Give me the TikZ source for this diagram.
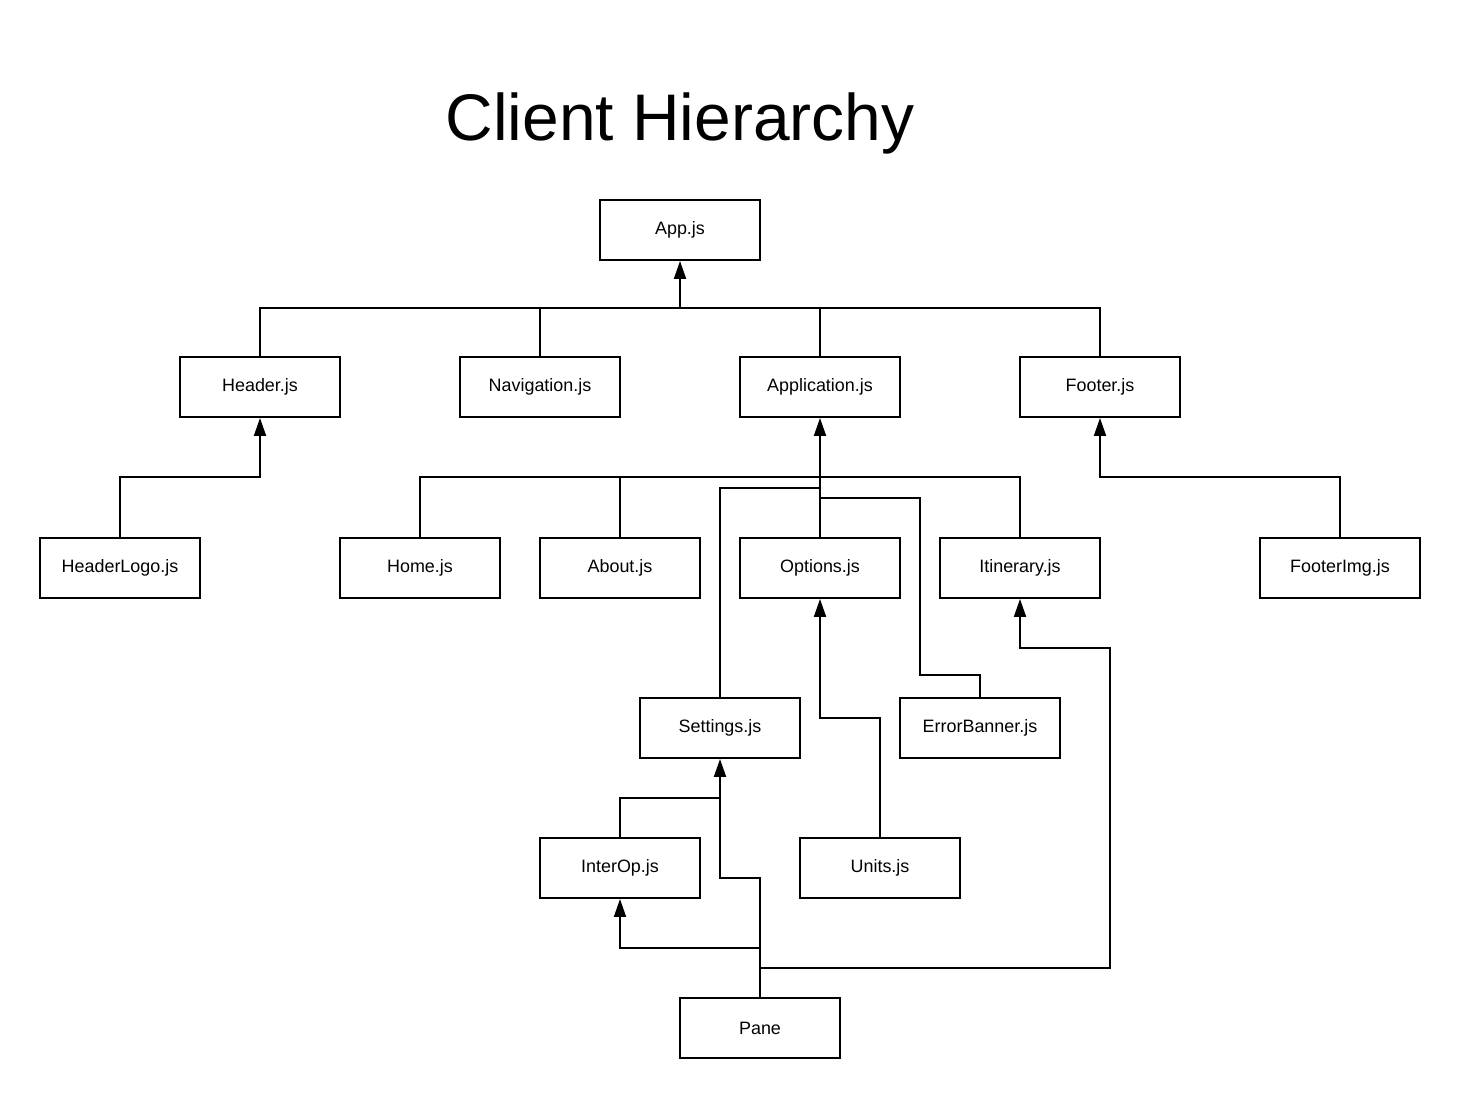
\documentclass[tikz,border=0pt]{standalone}
\usepackage{fontspec}
\setmainfont{Liberation Sans}
\usetikzlibrary{arrows.meta,positioning,calc}
\tikzset{
	file/.style={draw, line width=1.1pt, minimum width=3.2cm, minimum height=1.2cm, inner sep=0, font=\fontsize{10.2}{12}\selectfont},
	up/.style={-{Triangle[length=0.36cm,width=0.24cm]}}
}

\begin{document}
\begin{tikzpicture}[x=0.02cm, y=-0.02cm, line width=1.1pt]
				\useasboundingbox (0,0) rectangle (1460,1098);
				\node[anchor=base, font=\fontsize{37.5}{40}\selectfont] (title) at (680, 141) {Client Hierarchy};
				\node[file] (app) at (680, 230) {App.js};
				\node[file] (header) at (260, 387) {Header.js};
				\node[file] (nav) at (540, 387) {Navigation.js};
				\node[file] (application) at (820, 387) {Application.js};
				\node[file] (footer) at (1100, 387) {Footer.js};
				\node[file] (headerlogo) at (120, 568) {HeaderLogo.js};
				\node[file] (home) at (420, 568) {Home.js};
				\node[file] (about) at (620, 568) {About.js};
				\node[file] (options) at (820, 568) {Options.js};
				\node[file] (itinerary) at (1020, 568) {Itinerary.js};
				\node[file] (footerimg) at (1340, 568) {FooterImg.js};
				\node[file] (settings) at (720, 728) {Settings.js};
				\node[file] (errorbanner) at (980, 728) {ErrorBanner.js};
				\node[file] (interop) at (620, 868) {InterOp.js};
				\node[file] (units) at (880, 868) {Units.js};
				\node[file] (pane) at (760, 1028) {Pane};
				\coordinate (busApp) at (680, 308);
				\coordinate (busApplication) at (820, 477);
				\coordinate (paneInterop) at (760, 948);
				\coordinate (paneItinerary) at (760, 968);
				% first level
				\draw[up] (busApp) -- (app.south);
				\draw (header.north) |- (busApp) -| (footer.north);
				\draw (nav.north) -- (nav.north |- busApp);
				\draw (application.north) -- (application.north |- busApp);
				% second level
				\draw[up] (headerlogo.north) |- (header.south |- busApplication) -- (header.south);
				\draw[up] (footerimg.north) |- (footer.south |- busApplication) -- (footer.south);
				\draw[up] (busApplication) -- (application.south);
				\draw (home.north) |- (busApplication) -| (itinerary.north);
				\draw (about.north) -- (about.north |- busApplication);
				\draw (options.north) -- (busApplication);
				\draw (settings.north) |- (820, 488);
				\draw (errorbanner.north) |- (920, 675) |- (820, 498);
				% lower levels
				\draw[up] (units.north) |- (820, 718) -- (options.south);
				\draw (interop.north) |- (720, 798);
				\draw[up] (pane.north) |- (720, 878) -- (settings.south);
				\draw[up] (paneInterop) -| (interop.south);
				\draw[up] (paneItinerary) -| (1110, 648) -| (itinerary.south);
			\end{tikzpicture}
\end{document}
